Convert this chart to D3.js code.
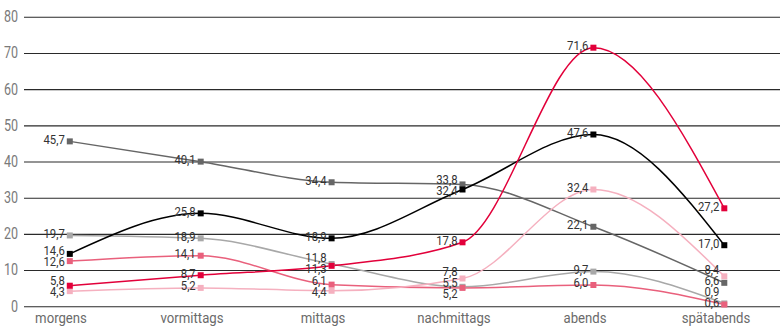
<!DOCTYPE html>
<html>
<head>
<meta charset="utf-8">
<script src="https://cdn.jsdelivr.net/npm/d3@7"></script>
<style>
  html, body { margin: 0; padding: 0; background: #fff; }
  svg { display: block; }
  text { font-family: Roboto, "Liberation Sans", sans-serif; }
</style>
</head>
<body>
<svg id="chart" width="780" height="327"></svg>
<script>
// ---- data ----
const categories = ["morgens", "vormittags", "mittags", "nachmittags", "abends", "spätabends"];
const yTicks = [0, 10, 20, 30, 40, 50, 60, 70, 80];

const seriesLightGray = [19.7, 18.9, 11.8, 5.5, 9.7, 0.9];
const seriesDarkGray  = [45.7, 40.1, 34.4, 33.8, 22.1, 6.6];
const seriesPink      = [12.6, 14.1, 6.1, 5.2, 6.0, 0.6];
const seriesLightPink = [4.3, 5.2, 4.4, 7.8, 32.4, 8.4];
const seriesBlack     = [14.6, 25.8, 18.9, 32.4, 47.6, 17.0];
const seriesRed       = [5.8, 8.7, 11.3, 17.8, 71.6, 27.2];

const seriesList = [
  { values: seriesLightGray, color: "#a8a8a8" },
  { values: seriesDarkGray,  color: "#666666" },
  { values: seriesPink,      color: "#e9607c" },
  { values: seriesLightPink, color: "#f5b0bf" },
  { values: seriesBlack,     color: "#000000" },
  { values: seriesRed,       color: "#e2003a" }
];

// ---- layout ----
const svg = d3.select("#chart");
const y = d3.scaleLinear().domain([0, 80]).range([306.7, 17.3]);
const x = d3.scalePoint().domain(categories).range([69.8, 724.3]);
const xLab = d3.scalePoint().domain(categories).range([61, 716]);

// condensed text helper
function condensed(sel, sx) {
  sel.attr("transform", d => `translate(${d.__x},${d.__y}) scale(${sx},1)`);
}

// gridlines
svg.append("g").selectAll("line").data(yTicks).join("line")
  .attr("x1", 24).attr("x2", 780)
  .attr("y1", d => y(d)).attr("y2", d => y(d))
  .attr("stroke", "#2a2a2a").attr("stroke-width", 1.1);

// y tick labels
svg.append("g").selectAll("text").data(yTicks.map(t => ({ t, __x: 18, __y: y(t) - 1 }))).join("text")
  .attr("dy", "0.36em")
  .attr("text-anchor", "end")
  .attr("font-size", 16.5)
  .attr("fill", "#7a7a7a")
  .text(d => d.t)
  .call(condensed, 0.76);

// x axis labels
svg.append("g").selectAll("text").data(categories.map(c => ({ c, __x: xLab(c), __y: 323 }))).join("text")
  .attr("text-anchor", "middle")
  .attr("font-size", 15.5)
  .attr("fill", "#6a6a6a")
  .text(d => d.c)
  .call(condensed, 0.85);

// lines
const line = d3.line()
  .x((d, i) => x(categories[i]))
  .y(d => y(d))
  .curve(d3.curveMonotoneX);

const gLines = svg.append("g");
seriesList.forEach(s => {
  gLines.append("path")
    .attr("d", line(s.values))
    .attr("fill", "none")
    .attr("stroke", s.color)
    .attr("stroke-width", 1.5);
});

// markers
const ms = 6;
const gMarks = svg.append("g");
seriesList.forEach(s => {
  gMarks.selectAll(null).data(s.values).join("rect")
    .attr("x", (d, i) => x(categories[i]) - ms / 2)
    .attr("y", d => y(d) - ms / 2)
    .attr("width", ms).attr("height", ms)
    .attr("fill", s.color);
});

// data labels with simple per-category collision avoidance
const fmt = v => d3.format(".1f")(v).replace(".", ",");
const spacing = 11;
const labelItems = [];
categories.forEach((c, ci) => {
  const items = seriesList.map(s => ({ v: s.values[ci], desired: y(s.values[ci]) + 2.5, ci }));
  items.sort((a, b) => a.desired - b.desired);
  const minY = 10, maxY = y(0) + 0.3;
  const clusters = [];
  const place = cl => {
    let m = d3.mean(cl.items, (it, k) => it.desired - k * spacing);
    m = Math.max(minY, Math.min(maxY - (cl.items.length - 1) * spacing, m));
    cl.start = m;
  };
  items.forEach(it => {
    const cl = { items: [it] };
    place(cl);
    clusters.push(cl);
    while (clusters.length > 1) {
      const cur = clusters[clusters.length - 1];
      const prev = clusters[clusters.length - 2];
      if (prev.start + prev.items.length * spacing > cur.start) {
        prev.items = prev.items.concat(cur.items);
        clusters.pop();
        place(prev);
      } else break;
    }
  });
  clusters.forEach(cl => cl.items.forEach((it, k) => {
    it.__x = x(categories[it.ci]) - ms / 2 - 2;
    it.__y = cl.start + k * spacing;
    labelItems.push(it);
  }));
});

svg.append("g").selectAll("text").data(labelItems).join("text")
  .attr("text-anchor", "end")
  .attr("font-size", 13)
  .attr("fill", "#333")
  .text(d => fmt(d.v))
  .call(condensed, 0.87);
</script>
</body>
</html>
